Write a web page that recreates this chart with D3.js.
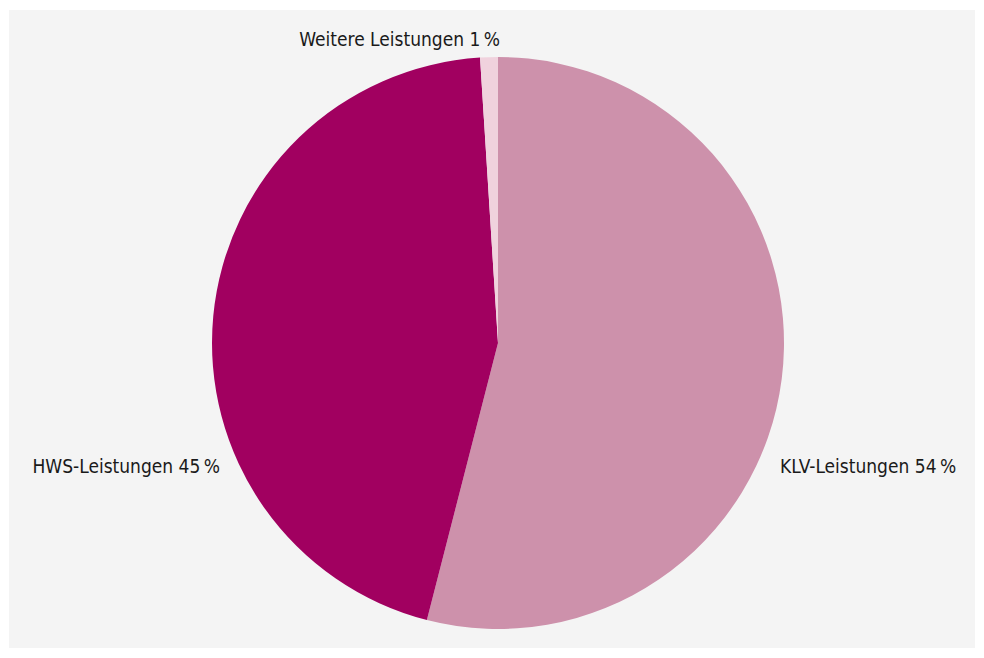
<!DOCTYPE html>
<html><head><meta charset="utf-8">
<script src="https://cdn.jsdelivr.net/npm/d3@7"></script>
<style>body{margin:0;background:#fff}svg{display:block}</style>
</head><body>
<svg id="c" width="984" height="658"></svg>
<script>
const categories = ["KLV-Leistungen", "HWS-Leistungen", "Weitere Leistungen"];
const values = [54, 45, 1];
const colors = ["#cd91ab", "#a10060", "#f0d2dd"];

const svg = d3.select("#c");
svg.append("rect").attr("x", 9).attr("y", 10).attr("width", 966).attr("height", 638).attr("fill", "#f4f4f4");

const cx = 498, cy = 343, r = 286;
const data = categories.map((c, i) => ({cat: c, value: values[i], color: colors[i]}));
const pie = d3.pie().value(d => d.value).sort(null);
const arc = d3.arc().innerRadius(0).outerRadius(r);
const g = svg.append("g").attr("transform", `translate(${cx},${cy})`);
g.selectAll("path").data(pie(data)).join("path").attr("d", arc).attr("fill", d => d.data.color);

const font = "'Liberation Sans Narrow', 'DejaVu Sans Condensed', sans-serif";
const labelPos = [
  {x: 780, y: 473, anchor: "start"},
  {x: 220, y: 473, anchor: "end"},
  {x: 500, y: 46, anchor: "end"}
];
svg.selectAll("text.lbl").data(data).join("text").attr("class", "lbl")
  .attr("x", (d, i) => labelPos[i].x).attr("y", (d, i) => labelPos[i].y)
  .attr("text-anchor", (d, i) => labelPos[i].anchor)
  .attr("font-family", font).attr("font-size", 19).attr("fill", "#1a1a1a")
  .text(d => `${d.cat} ${d.value}\u2009%`);
</script>
</body></html>
